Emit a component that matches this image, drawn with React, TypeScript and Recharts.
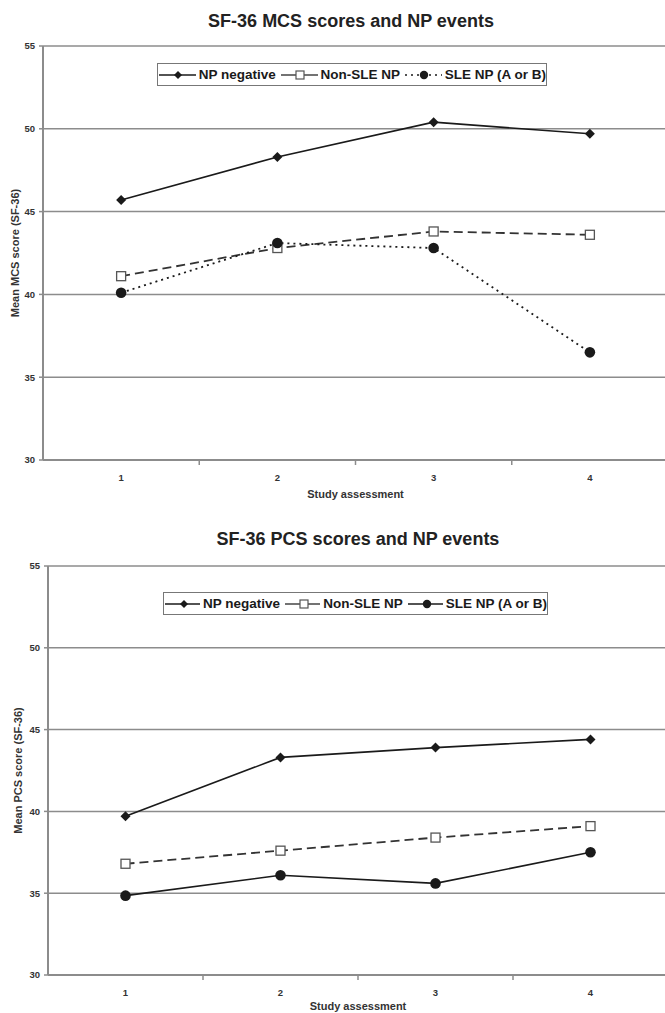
import React from 'react';
import { LineChart, Line, XAxis, YAxis, CartesianGrid, Legend } from 'recharts';

const assessments = ['1', '2', '3', '4'];
const yTicks = [30, 35, 40, 45, 50, 55];

const mcsNpNegative = [45.7, 48.3, 50.4, 49.7];
const mcsNonSle = [41.1, 42.8, 43.8, 43.6];
const mcsSle = [40.1, 43.1, 42.8, 36.5];

const pcsNpNegative = [39.7, 43.3, 43.9, 44.4];
const pcsNonSle = [36.8, 37.6, 38.4, 39.1];
const pcsSle = [34.85, 36.1, 35.6, 37.5];

const FONT = '"Liberation Sans", Arial, sans-serif';
const INK = '#1a1a1a';
const GRID = '#8c8c8c';

const buildRows = (neg: number[], nonSle: number[], sle: number[]) =>
  assessments.map((a, i) => ({ assessment: a, neg: neg[i], nonSle: nonSle[i], sle: sle[i] }));

const DiamondDot = (props: any) => {
  const { cx, cy, index } = props;
  if (cx == null || cy == null) return null;
  const r = 5;
  return (
    <polygon
      key={`d-${index}`}
      points={`${cx},${cy - r} ${cx + r},${cy} ${cx},${cy + r} ${cx - r},${cy}`}
      fill={INK}
    />
  );
};

const SquareDot = (props: any) => {
  const { cx, cy, index } = props;
  if (cx == null || cy == null) return null;
  return (
    <rect key={`s-${index}`} x={cx - 4.5} y={cy - 4.5} width={9} height={9} fill="#fff" stroke="#555" strokeWidth={1.3} />
  );
};

const CircleDot = (props: any) => {
  const { cx, cy, index } = props;
  if (cx == null || cy == null) return null;
  return <circle key={`c-${index}`} cx={cx} cy={cy} r={5.3} fill={INK} />;
};

const LegendIcon = ({ kind, dash }: { kind: 'diamond' | 'square' | 'circle'; dash?: string }) => (
  <svg width={40} height={12} style={{ verticalAlign: 'middle', marginRight: 3 }}>
    <line x1={1} y1={6} x2={39} y2={6} stroke={kind === 'square' ? '#444' : INK} strokeWidth={1.5} strokeDasharray={dash} />
    {kind === 'diamond' && <polygon points="20,2 24,6 20,10 16,6" fill={INK} />}
    {kind === 'square' && <rect x={16} y={2} width={8} height={8} fill="#fff" stroke="#555" strokeWidth={1.2} />}
    {kind === 'circle' && <circle cx={20} cy={6} r={4.2} fill={INK} />}
  </svg>
);

const makeLegend = (sleDash?: string) => () => (
  <div
    style={{
      border: '1.5px solid #777',
      background: '#fff',
      height: 23,
      display: 'flex',
      alignItems: 'center',
      justifyContent: 'center',
      fontFamily: FONT,
      fontWeight: 'bold',
      fontSize: 13.5,
      color: INK,
      whiteSpace: 'nowrap',
      boxSizing: 'border-box',
    }}
  >
    <LegendIcon kind="diamond" />
    <span style={{ marginRight: 4 }}>NP negative</span>
    <LegendIcon kind="square" />
    <span style={{ marginRight: 4 }}>Non-SLE NP</span>
    <LegendIcon kind="circle" dash={sleDash} />
    <span>SLE NP (A or B)</span>
  </div>
);

interface ScoreChartProps {
  top: number;
  height: number;
  axisWidth: number;
  xAxisHeight: number;
  bottomMargin: number;
  title: string;
  titleCenter: number;
  titleTop: number;
  yLabel: string;
  yLabelOffset: number;
  rows: any[];
  sleDash?: string;
  legendTop: number;
  legendLeft: number;
  legendWidth: number;
  labelOffset: number;
}

const CHART_W = 690;
const RIGHT = 22;

function ScoreChart(p: ScoreChartProps) {
  const band = (CHART_W - RIGHT - p.axisWidth) / assessments.length;

  const XTick = (props: any) => {
    const { x, y, payload } = props;
    return (
      <g>
        <line x1={x + band / 2} y1={y - 1} x2={x + band / 2} y2={y + 3} stroke={GRID} strokeWidth={1.5} />
        <text x={x} y={y + 19} textAnchor="middle" fontSize={9.5} fontWeight="bold" fill="#333" fontFamily={FONT}>
          {payload.value}
        </text>
      </g>
    );
  };

  return (
    <div style={{ position: 'absolute', left: 0, top: p.top, width: CHART_W, height: p.height }}>
      <div
        style={{
          position: 'absolute',
          top: p.titleTop,
          left: 0,
          width: p.titleCenter * 2,
          textAlign: 'center',
          fontFamily: FONT,
          fontWeight: 'bold',
          fontSize: 18,
          color: '#222',
          zIndex: 2,
        }}
      >
        {p.title}
      </div>
      <LineChart
        width={CHART_W}
        height={p.height}
        data={p.rows}
        margin={{ top: 46, right: RIGHT, left: 0, bottom: p.bottomMargin }}
      >
        <CartesianGrid vertical={false} stroke={GRID} strokeWidth={1.5} />
        <XAxis
          dataKey="assessment"
          height={p.xAxisHeight}
          padding={{ left: band / 2, right: band / 2 }}
          tickSize={0}
          tickLine={false}
          tick={<XTick />}
          axisLine={{ stroke: GRID, strokeWidth: 2 }}
          label={{
            value: 'Study assessment',
            position: 'insideBottom',
            offset: p.labelOffset,
            fontSize: 11,
            fontWeight: 'bold',
            fill: '#333',
            fontFamily: FONT,
          }}
        />
        <YAxis
          width={p.axisWidth}
          domain={[30, 55]}
          ticks={yTicks}
          interval={0}
          tickSize={4}
          tickMargin={4}
          tickLine={{ stroke: GRID, strokeWidth: 1.5 }}
          axisLine={{ stroke: GRID, strokeWidth: 2 }}
          tick={{ fontSize: 9.5, fontWeight: 'bold', fill: '#333', fontFamily: FONT }}
          label={{
            value: p.yLabel,
            angle: -90,
            position: 'insideLeft',
            offset: p.yLabelOffset,
            fontSize: 11,
            fontWeight: 'bold',
            fill: '#333',
            fontFamily: FONT,
            style: { textAnchor: 'middle' },
          }}
        />
        <Legend
          layout="horizontal"
          verticalAlign="middle"
          align="center"
          content={makeLegend(p.sleDash)}
          wrapperStyle={{ top: p.legendTop, left: p.legendLeft, width: p.legendWidth }}
        />
        <Line
          dataKey="nonSle"
          name="Non-SLE NP"
          stroke="#333"
          strokeWidth={1.8}
          strokeDasharray="9 5"
          dot={SquareDot}
          isAnimationActive={false}
        />
        <Line
          dataKey="sle"
          name="SLE NP (A or B)"
          stroke={INK}
          strokeWidth={p.sleDash ? 1.8 : 1.6}
          strokeDasharray={p.sleDash}
          dot={CircleDot}
          isAnimationActive={false}
        />
        <Line
          dataKey="neg"
          name="NP negative"
          stroke={INK}
          strokeWidth={1.6}
          dot={DiamondDot}
          isAnimationActive={false}
        />
      </LineChart>
    </div>
  );
}

export default function App() {
  return (
    <div
      style={{
        position: 'absolute',
        left: 0,
        top: 0,
        width: 665,
        height: 1013,
        overflow: 'hidden',
        background: '#fff',
      }}
    >
      <ScoreChart
        top={0}
        height={520}
        axisWidth={43}
        xAxisHeight={40}
        bottomMargin={20}
        title="SF-36 MCS scores and NP events"
        titleCenter={351}
        titleTop={11}
        yLabel="Mean MCS score (SF-36)"
        yLabelOffset={15}
        rows={buildRows(mcsNpNegative, mcsNonSle, mcsSle)}
        sleDash="2 4"
        legendTop={63}
        legendLeft={157}
        legendWidth={390}
        labelOffset={2}
      />
      <ScoreChart
        top={520}
        height={493}
        axisWidth={48}
        xAxisHeight={38}
        bottomMargin={0}
        title="SF-36 PCS scores and NP events"
        titleCenter={358}
        titleTop={9}
        yLabel="Mean PCS score (SF-36)"
        yLabelOffset={18}
        rows={buildRows(pcsNpNegative, pcsNonSle, pcsSle)}
        legendTop={72}
        legendLeft={163}
        legendWidth={385}
        labelOffset={3}
      />
    </div>
  );
}
